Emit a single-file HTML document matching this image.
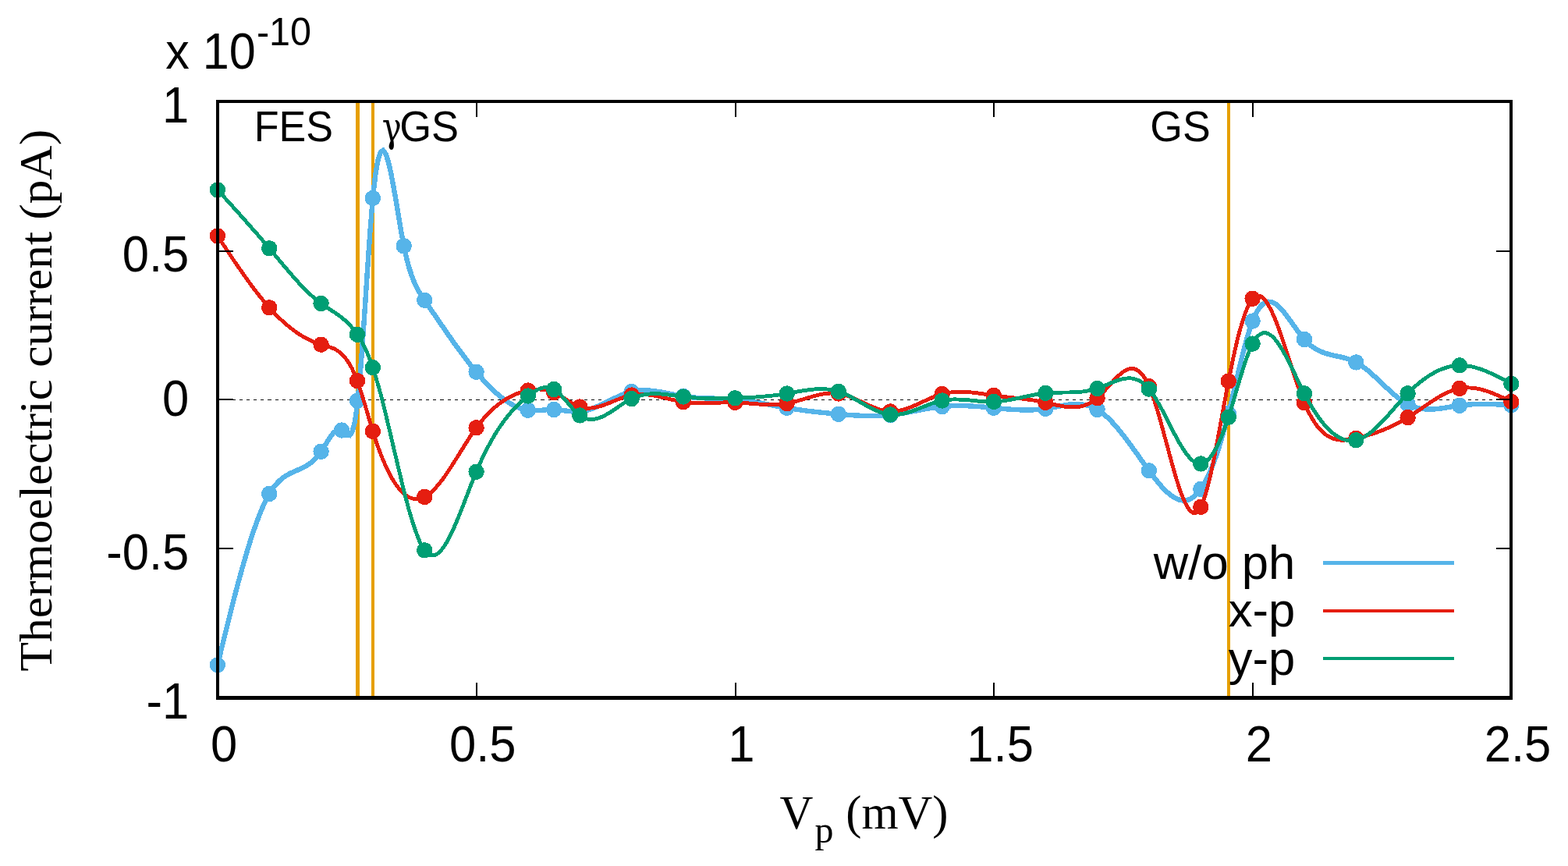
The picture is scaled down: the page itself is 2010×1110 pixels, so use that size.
<!DOCTYPE html>
<html lang="en"><head><meta charset="utf-8"><title>Thermoelectric current</title>
<style>html,body{margin:0;padding:0;background:#fff;overflow:hidden}svg{display:block}text{font-family:"Liberation Sans",sans-serif;font-size:62.5px;fill:#000}.s{font-family:"Liberation Serif",serif}.g{font-family:"DejaVu Serif","Liberation Serif",serif}</style></head><body>
<svg width="2010" height="1110" viewBox="0 0 2010 1110" shape-rendering="crispEdges">
<rect width="2010" height="1110" fill="#fff"/>
<line x1="278.9" y1="512.4" x2="1937" y2="512.4" stroke="#000" stroke-width="1.3" stroke-dasharray="4.2 5.011"/>
<g fill="#E69F00">
<rect x="455.9" y="130" width="5" height="766"/>
<rect x="476" y="130" width="4" height="766"/>
<rect x="1573" y="130" width="4" height="766"/>
</g>
<g id="legend">
<text transform="translate(1660.20,742.10) scale(0.9850,0.9800)" text-anchor="end">w/o ph</text>
<text transform="translate(1660.20,802.90) scale(0.9850,0.9800)" text-anchor="end">x-p</text>
<text transform="translate(1660.20,864.80) scale(0.9850,0.9800)" text-anchor="end">y-p</text>
</g>
<g fill="none" stroke-linejoin="miter" stroke-miterlimit="10" stroke-linecap="butt">
<path d="M278.9,852.3 L282.2,838.7 L285.5,825.1 L288.9,811.6 L292.2,798.2 L295.5,785.0 L298.8,772.0 L302.1,759.2 L305.4,746.7 L308.8,734.5 L312.1,722.7 L315.4,711.3 L318.7,700.3 L322.0,689.8 L325.3,679.8 L328.7,670.4 L332.0,661.5 L335.3,653.3 L338.6,645.8 L341.9,639.0 L345.2,633.0 L348.6,627.7 L351.9,623.2 L355.2,619.3 L358.5,616.0 L361.8,613.2 L365.1,610.8 L368.5,608.7 L371.8,606.9 L375.1,605.3 L378.4,603.8 L381.7,602.4 L385.0,600.9 L388.4,599.3 L391.7,597.6 L395.0,595.5 L398.3,593.2 L401.6,590.4 L404.9,587.1 L408.3,583.3 L411.6,578.8 L414.9,573.7 L418.2,568.3 L421.5,562.9 L424.8,558.1 L428.2,554.1 L431.5,551.4 L434.8,550.4 L438.1,551.5 L441.4,554.6 L444.7,557.7 L448.1,558.2 L451.4,553.7 L454.7,541.6 L458.0,519.5 L461.3,485.3 L464.6,441.5 L468.0,392.2 L471.3,341.7 L474.6,294.2 L477.9,254.0 L481.2,224.4 L484.5,205.2 L487.9,195.0 L491.2,192.8 L494.5,197.3 L497.8,207.3 L501.1,221.5 L504.4,238.9 L507.8,258.2 L511.1,278.1 L514.4,297.6 L517.7,315.3 L521.0,330.4 L524.3,342.9 L527.7,353.2 L531.0,361.7 L534.3,368.7 L537.6,374.7 L540.9,379.9 L544.2,384.8 L547.6,389.6 L550.9,394.5 L554.2,399.4 L557.5,404.2 L560.8,409.1 L564.1,413.9 L567.5,418.7 L570.8,423.5 L574.1,428.3 L577.4,433.0 L580.7,437.7 L584.0,442.3 L587.4,446.9 L590.7,451.4 L594.0,455.8 L597.3,460.2 L600.6,464.5 L603.9,468.7 L607.3,472.8 L610.6,476.8 L613.9,480.7 L617.2,484.5 L620.5,488.2 L623.8,491.8 L627.2,495.2 L630.5,498.5 L633.8,501.6 L637.1,504.6 L640.4,507.4 L643.7,510.1 L647.1,512.6 L650.4,514.9 L653.7,517.0 L657.0,518.9 L660.3,520.6 L663.6,522.1 L667.0,523.4 L670.3,524.4 L673.6,525.2 L676.9,525.8 L680.2,526.1 L683.5,526.3 L686.9,526.2 L690.2,526.1 L693.5,525.9 L696.8,525.6 L700.1,525.3 L703.5,525.1 L706.8,525.0 L710.1,525.0 L713.4,525.2 L716.7,525.5 L720.0,525.8 L723.4,526.3 L726.7,526.7 L730.0,527.1 L733.3,527.4 L736.6,527.6 L739.9,527.7 L743.3,527.5 L746.6,527.1 L749.9,526.5 L753.2,525.6 L756.5,524.6 L759.8,523.4 L763.2,522.1 L766.5,520.7 L769.8,519.2 L773.1,517.6 L776.4,516.0 L779.7,514.3 L783.1,512.7 L786.4,511.1 L789.7,509.5 L793.0,507.9 L796.3,506.5 L799.6,505.1 L803.0,503.9 L806.3,502.9 L809.6,502.0 L812.9,501.3 L816.2,500.8 L819.5,500.5 L822.9,500.3 L826.2,500.3 L829.5,500.4 L832.8,500.6 L836.1,500.9 L839.4,501.3 L842.8,501.8 L846.1,502.3 L849.4,502.9 L852.7,503.6 L856.0,504.2 L859.3,504.9 L862.7,505.6 L866.0,506.3 L869.3,506.9 L872.6,507.5 L875.9,508.0 L879.2,508.5 L882.6,508.9 L885.9,509.2 L889.2,509.5 L892.5,509.8 L895.8,510.0 L899.1,510.1 L902.5,510.3 L905.8,510.4 L909.1,510.5 L912.4,510.6 L915.7,510.7 L919.0,510.8 L922.4,510.9 L925.7,511.0 L929.0,511.2 L932.3,511.3 L935.6,511.5 L938.9,511.7 L942.3,512.0 L945.6,512.3 L948.9,512.7 L952.2,513.1 L955.5,513.5 L958.8,514.0 L962.2,514.5 L965.5,515.0 L968.8,515.6 L972.1,516.1 L975.4,516.7 L978.7,517.3 L982.1,517.9 L985.4,518.6 L988.7,519.2 L992.0,519.8 L995.3,520.4 L998.6,521.0 L1002.0,521.6 L1005.3,522.2 L1008.6,522.8 L1011.9,523.3 L1015.2,523.9 L1018.5,524.4 L1021.9,524.9 L1025.2,525.3 L1028.5,525.8 L1031.8,526.2 L1035.1,526.7 L1038.4,527.1 L1041.8,527.5 L1045.1,527.8 L1048.4,528.2 L1051.7,528.6 L1055.0,528.9 L1058.3,529.2 L1061.7,529.6 L1065.0,529.9 L1068.3,530.2 L1071.6,530.5 L1074.9,530.8 L1078.2,531.1 L1081.6,531.4 L1084.9,531.6 L1088.2,531.9 L1091.5,532.1 L1094.8,532.4 L1098.1,532.6 L1101.5,532.7 L1104.8,532.9 L1108.1,533.0 L1111.4,533.1 L1114.7,533.2 L1118.1,533.2 L1121.4,533.2 L1124.7,533.1 L1128.0,533.0 L1131.3,532.8 L1134.6,532.6 L1138.0,532.3 L1141.3,532.0 L1144.6,531.6 L1147.9,531.2 L1151.2,530.7 L1154.5,530.2 L1157.9,529.6 L1161.2,529.0 L1164.5,528.4 L1167.8,527.8 L1171.1,527.1 L1174.4,526.5 L1177.8,525.9 L1181.1,525.2 L1184.4,524.6 L1187.7,524.0 L1191.0,523.4 L1194.3,522.9 L1197.7,522.4 L1201.0,521.9 L1204.3,521.5 L1207.6,521.1 L1210.9,520.8 L1214.2,520.6 L1217.6,520.4 L1220.9,520.2 L1224.2,520.1 L1227.5,520.1 L1230.8,520.1 L1234.1,520.1 L1237.5,520.2 L1240.8,520.3 L1244.1,520.5 L1247.4,520.7 L1250.7,520.9 L1254.0,521.1 L1257.4,521.3 L1260.7,521.6 L1264.0,521.9 L1267.3,522.2 L1270.6,522.5 L1273.9,522.8 L1277.3,523.1 L1280.6,523.4 L1283.9,523.7 L1287.2,524.0 L1290.5,524.3 L1293.8,524.6 L1297.2,524.8 L1300.5,525.0 L1303.8,525.2 L1307.1,525.3 L1310.4,525.5 L1313.7,525.5 L1317.1,525.5 L1320.4,525.5 L1323.7,525.4 L1327.0,525.2 L1330.3,525.0 L1333.6,524.7 L1337.0,524.3 L1340.3,523.9 L1343.6,523.4 L1346.9,522.8 L1350.2,522.2 L1353.5,521.5 L1356.9,520.9 L1360.2,520.2 L1363.5,519.6 L1366.8,519.1 L1370.1,518.6 L1373.4,518.3 L1376.8,518.1 L1380.1,518.0 L1383.4,518.1 L1386.7,518.4 L1390.0,518.8 L1393.3,519.5 L1396.7,520.5 L1400.0,521.7 L1403.3,523.2 L1406.6,525.0 L1409.9,527.1 L1413.2,529.6 L1416.6,532.3 L1419.9,535.3 L1423.2,538.5 L1426.5,542.0 L1429.8,545.7 L1433.1,549.6 L1436.5,553.6 L1439.8,557.8 L1443.1,562.1 L1446.4,566.5 L1449.7,571.0 L1453.0,575.6 L1456.4,580.2 L1459.7,584.9 L1463.0,589.5 L1466.3,594.2 L1469.6,598.8 L1472.9,603.3 L1476.3,607.8 L1479.6,612.1 L1482.9,616.3 L1486.2,620.3 L1489.5,624.1 L1492.8,627.6 L1496.2,630.8 L1499.5,633.7 L1502.8,636.2 L1506.1,638.2 L1509.4,639.8 L1512.7,640.9 L1516.1,641.4 L1519.4,641.4 L1522.7,640.8 L1526.0,639.5 L1529.3,637.5 L1532.7,634.7 L1536.0,631.2 L1539.3,626.9 L1542.6,621.7 L1545.9,615.7 L1549.2,608.9 L1552.6,601.3 L1555.9,592.8 L1559.2,583.6 L1562.5,573.6 L1565.8,562.8 L1569.1,551.3 L1572.5,539.0 L1575.8,526.0 L1579.1,512.4 L1582.4,498.4 L1585.7,484.3 L1589.0,470.3 L1592.4,456.7 L1595.7,443.7 L1599.0,431.7 L1602.3,420.9 L1605.6,411.5 L1608.9,403.7 L1612.3,397.6 L1615.6,392.9 L1618.9,389.6 L1622.2,387.6 L1625.5,386.7 L1628.8,386.8 L1632.2,388.0 L1635.5,389.9 L1638.8,392.6 L1642.1,395.8 L1645.4,399.6 L1648.7,403.8 L1652.1,408.3 L1655.4,412.9 L1658.7,417.6 L1662.0,422.3 L1665.3,426.8 L1668.6,431.1 L1672.0,435.0 L1675.3,438.5 L1678.6,441.5 L1681.9,444.1 L1685.2,446.4 L1688.5,448.3 L1691.9,450.0 L1695.2,451.4 L1698.5,452.6 L1701.8,453.6 L1705.1,454.5 L1708.4,455.3 L1711.8,456.1 L1715.1,456.8 L1718.4,457.5 L1721.7,458.3 L1725.0,459.2 L1728.3,460.2 L1731.7,461.4 L1735.0,462.8 L1738.3,464.4 L1741.6,466.3 L1744.9,468.4 L1748.2,470.8 L1751.6,473.4 L1754.9,476.1 L1758.2,479.0 L1761.5,482.0 L1764.8,485.1 L1768.1,488.2 L1771.5,491.3 L1774.8,494.5 L1778.1,497.6 L1781.4,500.7 L1784.7,503.7 L1788.0,506.5 L1791.4,509.3 L1794.7,511.8 L1798.0,514.2 L1801.3,516.3 L1804.6,518.2 L1807.9,519.8 L1811.3,521.2 L1814.6,522.3 L1817.9,523.1 L1821.2,523.8 L1824.5,524.2 L1827.8,524.5 L1831.2,524.7 L1834.5,524.6 L1837.8,524.5 L1841.1,524.2 L1844.4,523.9 L1847.7,523.4 L1851.1,523.0 L1854.4,522.4 L1857.7,521.9 L1861.0,521.3 L1864.3,520.8 L1867.6,520.3 L1871.0,519.8 L1874.3,519.4 L1877.6,519.0 L1880.9,518.7 L1884.2,518.5 L1887.5,518.3 L1890.9,518.1 L1894.2,518.0 L1897.5,518.0 L1900.8,517.9 L1904.1,517.9 L1907.4,518.0 L1910.8,518.0 L1914.1,518.1 L1917.4,518.3 L1920.7,518.4 L1924.0,518.5 L1927.3,518.7 L1930.7,518.9 L1934.0,519.0 L1937.3,519.2" stroke="#56B4E9" stroke-width="6.4"/>
<rect x="1696" y="719" width="168" height="5" fill="#56B4E9"/>
<circle cx="278.9" cy="852.3" r="10.2" fill="#56B4E9"/><circle cx="345.2" cy="633.0" r="10.2" fill="#56B4E9"/><circle cx="411.6" cy="578.8" r="10.2" fill="#56B4E9"/><circle cx="438.1" cy="551.5" r="10.2" fill="#56B4E9"/><circle cx="458.0" cy="513.6" r="10.2" fill="#56B4E9"/><circle cx="477.9" cy="254.0" r="10.2" fill="#56B4E9"/><circle cx="517.7" cy="315.3" r="10.2" fill="#56B4E9"/><circle cx="544.2" cy="384.8" r="10.2" fill="#56B4E9"/><circle cx="610.6" cy="476.8" r="10.2" fill="#56B4E9"/><circle cx="676.9" cy="525.8" r="10.2" fill="#56B4E9"/><circle cx="710.1" cy="525.0" r="10.2" fill="#56B4E9"/><circle cx="743.3" cy="527.5" r="10.2" fill="#56B4E9"/><circle cx="809.6" cy="502.0" r="10.2" fill="#56B4E9"/><circle cx="875.9" cy="508.0" r="10.2" fill="#56B4E9"/><circle cx="942.3" cy="512.0" r="10.2" fill="#56B4E9"/><circle cx="1008.6" cy="522.8" r="10.2" fill="#56B4E9"/><circle cx="1074.9" cy="530.8" r="10.2" fill="#56B4E9"/><circle cx="1141.3" cy="532.0" r="10.2" fill="#56B4E9"/><circle cx="1207.6" cy="521.1" r="10.2" fill="#56B4E9"/><circle cx="1273.9" cy="522.8" r="10.2" fill="#56B4E9"/><circle cx="1340.3" cy="523.9" r="10.2" fill="#56B4E9"/><circle cx="1406.6" cy="525.0" r="10.2" fill="#56B4E9"/><circle cx="1472.9" cy="603.3" r="10.2" fill="#56B4E9"/><circle cx="1539.3" cy="626.9" r="10.2" fill="#56B4E9"/><circle cx="1574.8" cy="530.0" r="10.2" fill="#56B4E9"/><circle cx="1605.6" cy="411.5" r="10.2" fill="#56B4E9"/><circle cx="1672.0" cy="435.0" r="10.2" fill="#56B4E9"/><circle cx="1738.3" cy="464.4" r="10.2" fill="#56B4E9"/><circle cx="1804.6" cy="518.2" r="10.2" fill="#56B4E9"/><circle cx="1871.0" cy="519.8" r="10.2" fill="#56B4E9"/><circle cx="1937.3" cy="519.2" r="10.2" fill="#56B4E9"/>
<path d="M278.9,302.4 L282.2,307.4 L285.5,312.5 L288.9,317.5 L292.2,322.5 L295.5,327.4 L298.8,332.4 L302.1,337.3 L305.4,342.1 L308.8,346.9 L312.1,351.6 L315.4,356.3 L318.7,360.9 L322.0,365.4 L325.3,369.9 L328.7,374.2 L332.0,378.5 L335.3,382.6 L338.6,386.6 L341.9,390.5 L345.2,394.3 L348.6,398.0 L351.9,401.5 L355.2,404.9 L358.5,408.1 L361.8,411.2 L365.1,414.2 L368.5,417.1 L371.8,419.8 L375.1,422.4 L378.4,424.8 L381.7,427.1 L385.0,429.3 L388.4,431.3 L391.7,433.2 L395.0,435.0 L398.3,436.6 L401.6,438.1 L404.9,439.4 L408.3,440.6 L411.6,441.7 L414.9,442.6 L418.2,443.5 L421.5,444.5 L424.8,445.6 L428.2,447.0 L431.5,448.8 L434.8,451.0 L438.1,453.8 L441.4,457.3 L444.7,461.5 L448.1,466.6 L451.4,472.6 L454.7,479.8 L458.0,488.1 L461.3,497.6 L464.6,508.1 L468.0,519.2 L471.3,530.5 L474.6,541.8 L477.9,552.8 L481.2,563.1 L484.5,572.7 L487.9,581.7 L491.2,589.9 L494.5,597.5 L497.8,604.5 L501.1,610.8 L504.4,616.4 L507.8,621.4 L511.1,625.8 L514.4,629.6 L517.7,632.7 L521.0,635.3 L524.3,637.3 L527.7,638.6 L531.0,639.4 L534.3,639.7 L537.6,639.3 L540.9,638.4 L544.2,637.0 L547.6,635.0 L550.9,632.6 L554.2,629.6 L557.5,626.3 L560.8,622.6 L564.1,618.5 L567.5,614.2 L570.8,609.6 L574.1,604.7 L577.4,599.7 L580.7,594.5 L584.0,589.3 L587.4,584.0 L590.7,578.6 L594.0,573.3 L597.3,568.0 L600.6,562.8 L603.9,557.8 L607.3,552.9 L610.6,548.3 L613.9,543.9 L617.2,539.8 L620.5,535.9 L623.8,532.2 L627.2,528.8 L630.5,525.5 L633.8,522.5 L637.1,519.8 L640.4,517.2 L643.7,514.8 L647.1,512.6 L650.4,510.6 L653.7,508.8 L657.0,507.1 L660.3,505.6 L663.6,504.3 L667.0,503.2 L670.3,502.1 L673.6,501.2 L676.9,500.5 L680.2,499.9 L683.5,499.4 L686.9,499.1 L690.2,499.0 L693.5,499.1 L696.8,499.3 L700.1,499.9 L703.5,500.6 L706.8,501.7 L710.1,503.0 L713.4,504.6 L716.7,506.5 L720.0,508.5 L723.4,510.6 L726.7,512.7 L730.0,514.8 L733.3,516.8 L736.6,518.7 L739.9,520.2 L743.3,521.5 L746.6,522.4 L749.9,523.0 L753.2,523.2 L756.5,523.1 L759.8,522.8 L763.2,522.3 L766.5,521.5 L769.8,520.6 L773.1,519.5 L776.4,518.3 L779.7,517.0 L783.1,515.7 L786.4,514.3 L789.7,513.0 L793.0,511.6 L796.3,510.4 L799.6,509.2 L803.0,508.1 L806.3,507.2 L809.6,506.5 L812.9,506.0 L816.2,505.6 L819.5,505.5 L822.9,505.5 L826.2,505.6 L829.5,505.9 L832.8,506.3 L836.1,506.8 L839.4,507.3 L842.8,508.0 L846.1,508.7 L849.4,509.5 L852.7,510.2 L856.0,511.0 L859.3,511.8 L862.7,512.6 L866.0,513.3 L869.3,514.0 L872.6,514.6 L875.9,515.1 L879.2,515.5 L882.6,515.9 L885.9,516.2 L889.2,516.4 L892.5,516.5 L895.8,516.6 L899.1,516.6 L902.5,516.6 L905.8,516.5 L909.1,516.5 L912.4,516.4 L915.7,516.3 L919.0,516.2 L922.4,516.1 L925.7,516.0 L929.0,515.9 L932.3,515.8 L935.6,515.8 L938.9,515.8 L942.3,515.9 L945.6,516.0 L948.9,516.2 L952.2,516.4 L955.5,516.6 L958.8,516.9 L962.2,517.2 L965.5,517.4 L968.8,517.7 L972.1,518.0 L975.4,518.2 L978.7,518.4 L982.1,518.5 L985.4,518.6 L988.7,518.7 L992.0,518.6 L995.3,518.5 L998.6,518.3 L1002.0,518.0 L1005.3,517.6 L1008.6,517.1 L1011.9,516.5 L1015.2,515.7 L1018.5,514.9 L1021.9,514.0 L1025.2,513.0 L1028.5,512.1 L1031.8,511.1 L1035.1,510.0 L1038.4,509.1 L1041.8,508.1 L1045.1,507.2 L1048.4,506.4 L1051.7,505.7 L1055.0,505.0 L1058.3,504.5 L1061.7,504.2 L1065.0,504.0 L1068.3,503.9 L1071.6,504.1 L1074.9,504.5 L1078.2,505.1 L1081.6,505.9 L1084.9,506.9 L1088.2,508.1 L1091.5,509.4 L1094.8,510.8 L1098.1,512.2 L1101.5,513.8 L1104.8,515.3 L1108.1,516.9 L1111.4,518.4 L1114.7,519.9 L1118.1,521.4 L1121.4,522.7 L1124.7,523.9 L1128.0,525.0 L1131.3,525.9 L1134.6,526.6 L1138.0,527.1 L1141.3,527.4 L1144.6,527.4 L1147.9,527.1 L1151.2,526.7 L1154.5,526.0 L1157.9,525.1 L1161.2,524.1 L1164.5,522.9 L1167.8,521.7 L1171.1,520.3 L1174.4,518.9 L1177.8,517.4 L1181.1,515.8 L1184.4,514.3 L1187.7,512.8 L1191.0,511.3 L1194.3,509.8 L1197.7,508.5 L1201.0,507.2 L1204.3,506.1 L1207.6,505.1 L1210.9,504.3 L1214.2,503.6 L1217.6,503.1 L1220.9,502.7 L1224.2,502.4 L1227.5,502.2 L1230.8,502.2 L1234.1,502.2 L1237.5,502.4 L1240.8,502.6 L1244.1,502.9 L1247.4,503.2 L1250.7,503.6 L1254.0,504.0 L1257.4,504.5 L1260.7,505.0 L1264.0,505.5 L1267.3,505.9 L1270.6,506.4 L1273.9,506.9 L1277.3,507.3 L1280.6,507.8 L1283.9,508.2 L1287.2,508.5 L1290.5,508.9 L1293.8,509.3 L1297.2,509.6 L1300.5,510.0 L1303.8,510.4 L1307.1,510.7 L1310.4,511.1 L1313.7,511.5 L1317.1,512.0 L1320.4,512.4 L1323.7,512.9 L1327.0,513.4 L1330.3,514.0 L1333.6,514.6 L1337.0,515.2 L1340.3,515.9 L1343.6,516.6 L1346.9,517.4 L1350.2,518.2 L1353.5,519.0 L1356.9,519.7 L1360.2,520.3 L1363.5,520.9 L1366.8,521.4 L1370.1,521.7 L1373.4,521.9 L1376.8,521.9 L1380.1,521.7 L1383.4,521.3 L1386.7,520.6 L1390.0,519.7 L1393.3,518.4 L1396.7,516.9 L1400.0,515.0 L1403.3,512.7 L1406.6,510.1 L1409.9,507.1 L1413.2,503.7 L1416.6,500.1 L1419.9,496.4 L1423.2,492.7 L1426.5,489.0 L1429.8,485.5 L1433.1,482.2 L1436.5,479.2 L1439.8,476.6 L1443.1,474.6 L1446.4,473.2 L1449.7,472.5 L1453.0,472.6 L1456.4,473.6 L1459.7,475.6 L1463.0,478.6 L1466.3,482.9 L1469.6,488.4 L1472.9,495.2 L1476.3,503.4 L1479.6,512.9 L1482.9,523.4 L1486.2,534.7 L1489.5,546.6 L1492.8,558.9 L1496.2,571.3 L1499.5,583.7 L1502.8,595.8 L1506.1,607.5 L1509.4,618.4 L1512.7,628.4 L1516.1,637.3 L1519.4,644.8 L1522.7,650.8 L1526.0,655.0 L1529.3,657.2 L1532.7,657.2 L1536.0,654.8 L1539.3,649.8 L1542.6,642.0 L1545.9,631.7 L1549.2,619.3 L1552.6,605.0 L1555.9,589.3 L1559.2,572.4 L1562.5,554.8 L1565.8,536.8 L1569.1,518.6 L1572.5,500.8 L1575.8,483.5 L1579.1,467.1 L1582.4,451.8 L1585.7,437.5 L1589.0,424.6 L1592.4,413.0 L1595.7,402.9 L1599.0,394.4 L1602.3,387.7 L1605.6,382.8 L1608.9,379.9 L1612.3,378.8 L1615.6,379.5 L1618.9,381.7 L1622.2,385.3 L1625.5,390.3 L1628.8,396.4 L1632.2,403.5 L1635.5,411.4 L1638.8,420.1 L1642.1,429.4 L1645.4,439.1 L1648.7,449.2 L1652.1,459.4 L1655.4,469.6 L1658.7,479.7 L1662.0,489.6 L1665.3,499.0 L1668.6,507.9 L1672.0,516.2 L1675.3,523.7 L1678.6,530.4 L1681.9,536.3 L1685.2,541.6 L1688.5,546.2 L1691.9,550.1 L1695.2,553.5 L1698.5,556.4 L1701.8,558.7 L1705.1,560.5 L1708.4,562.0 L1711.8,563.0 L1715.1,563.7 L1718.4,564.1 L1721.7,564.2 L1725.0,564.0 L1728.3,563.7 L1731.7,563.1 L1735.0,562.5 L1738.3,561.8 L1741.6,561.0 L1744.9,560.2 L1748.2,559.3 L1751.6,558.4 L1754.9,557.4 L1758.2,556.4 L1761.5,555.3 L1764.8,554.2 L1768.1,553.0 L1771.5,551.7 L1774.8,550.4 L1778.1,549.0 L1781.4,547.5 L1784.7,545.9 L1788.0,544.3 L1791.4,542.6 L1794.7,540.9 L1798.0,539.0 L1801.3,537.1 L1804.6,535.1 L1807.9,533.0 L1811.3,530.9 L1814.6,528.6 L1817.9,526.4 L1821.2,524.1 L1824.5,521.9 L1827.8,519.6 L1831.2,517.4 L1834.5,515.1 L1837.8,513.0 L1841.1,510.9 L1844.4,508.9 L1847.7,507.0 L1851.1,505.3 L1854.4,503.6 L1857.7,502.1 L1861.0,500.8 L1864.3,499.6 L1867.6,498.7 L1871.0,497.9 L1874.3,497.4 L1877.6,497.0 L1880.9,496.9 L1884.2,497.0 L1887.5,497.2 L1890.9,497.6 L1894.2,498.2 L1897.5,498.9 L1900.8,499.8 L1904.1,500.8 L1907.4,501.8 L1910.8,503.0 L1914.1,504.3 L1917.4,505.7 L1920.7,507.1 L1924.0,508.6 L1927.3,510.1 L1930.7,511.6 L1934.0,513.2 L1937.3,514.8" stroke="#E51E10" stroke-width="4.9"/>
<rect x="1696" y="780.8" width="168" height="4.1" fill="#E51E10"/>
<circle cx="278.9" cy="302.4" r="10.2" fill="#E51E10"/><circle cx="345.2" cy="394.3" r="10.2" fill="#E51E10"/><circle cx="411.6" cy="441.7" r="10.2" fill="#E51E10"/><circle cx="458.0" cy="488.1" r="10.2" fill="#E51E10"/><circle cx="477.9" cy="552.8" r="10.2" fill="#E51E10"/><circle cx="544.2" cy="637.0" r="10.2" fill="#E51E10"/><circle cx="610.6" cy="548.3" r="10.2" fill="#E51E10"/><circle cx="676.9" cy="500.5" r="10.2" fill="#E51E10"/><circle cx="710.1" cy="503.0" r="10.2" fill="#E51E10"/><circle cx="743.3" cy="521.5" r="10.2" fill="#E51E10"/><circle cx="809.6" cy="506.5" r="10.2" fill="#E51E10"/><circle cx="875.9" cy="515.1" r="10.2" fill="#E51E10"/><circle cx="942.3" cy="515.9" r="10.2" fill="#E51E10"/><circle cx="1008.6" cy="517.1" r="10.2" fill="#E51E10"/><circle cx="1074.9" cy="504.5" r="10.2" fill="#E51E10"/><circle cx="1141.3" cy="527.4" r="10.2" fill="#E51E10"/><circle cx="1207.6" cy="505.1" r="10.2" fill="#E51E10"/><circle cx="1273.9" cy="506.9" r="10.2" fill="#E51E10"/><circle cx="1340.3" cy="515.9" r="10.2" fill="#E51E10"/><circle cx="1406.6" cy="510.1" r="10.2" fill="#E51E10"/><circle cx="1472.9" cy="495.2" r="10.2" fill="#E51E10"/><circle cx="1539.3" cy="649.8" r="10.2" fill="#E51E10"/><circle cx="1574.8" cy="488.6" r="10.2" fill="#E51E10"/><circle cx="1605.6" cy="382.8" r="10.2" fill="#E51E10"/><circle cx="1672.0" cy="516.2" r="10.2" fill="#E51E10"/><circle cx="1738.3" cy="561.8" r="10.2" fill="#E51E10"/><circle cx="1804.6" cy="535.1" r="10.2" fill="#E51E10"/><circle cx="1871.0" cy="497.9" r="10.2" fill="#E51E10"/><circle cx="1937.3" cy="514.8" r="10.2" fill="#E51E10"/>
<path d="M278.9,243.4 L282.2,247.0 L285.5,250.7 L288.9,254.4 L292.2,258.0 L295.5,261.7 L298.8,265.3 L302.1,269.0 L305.4,272.7 L308.8,276.4 L312.1,280.1 L315.4,283.9 L318.7,287.6 L322.0,291.4 L325.3,295.1 L328.7,298.9 L332.0,302.8 L335.3,306.6 L338.6,310.5 L341.9,314.4 L345.2,318.3 L348.6,322.3 L351.9,326.2 L355.2,330.2 L358.5,334.2 L361.8,338.1 L365.1,342.1 L368.5,346.0 L371.8,349.8 L375.1,353.7 L378.4,357.4 L381.7,361.1 L385.0,364.7 L388.4,368.1 L391.7,371.5 L395.0,374.8 L398.3,377.9 L401.6,380.9 L404.9,383.8 L408.3,386.5 L411.6,389.0 L414.9,391.4 L418.2,393.6 L421.5,395.7 L424.8,397.9 L428.2,400.0 L431.5,402.2 L434.8,404.6 L438.1,407.1 L441.4,409.9 L444.7,412.9 L448.1,416.2 L451.4,420.0 L454.7,424.2 L458.0,428.8 L461.3,434.0 L464.6,439.8 L468.0,446.3 L471.3,453.7 L474.6,461.9 L477.9,471.2 L481.2,481.5 L484.5,492.8 L487.9,504.9 L491.2,517.7 L494.5,531.1 L497.8,544.9 L501.1,558.9 L504.4,573.1 L507.8,587.3 L511.1,601.4 L514.4,615.2 L517.7,628.7 L521.0,641.5 L524.3,653.8 L527.7,665.2 L531.0,675.6 L534.3,685.0 L537.6,693.2 L540.9,700.0 L544.2,705.3 L547.6,709.0 L550.9,711.2 L554.2,712.0 L557.5,711.5 L560.8,709.7 L564.1,706.9 L567.5,702.9 L570.8,698.1 L574.1,692.5 L577.4,686.1 L580.7,679.1 L584.0,671.6 L587.4,663.6 L590.7,655.4 L594.0,646.9 L597.3,638.3 L600.6,629.7 L603.9,621.1 L607.3,612.8 L610.6,604.7 L613.9,597.0 L617.2,589.6 L620.5,582.7 L623.8,576.0 L627.2,569.7 L630.5,563.8 L633.8,558.1 L637.1,552.7 L640.4,547.6 L643.7,542.8 L647.1,538.3 L650.4,534.0 L653.7,530.0 L657.0,526.2 L660.3,522.6 L663.6,519.2 L667.0,516.0 L670.3,513.0 L673.6,510.2 L676.9,507.5 L680.2,505.0 L683.5,502.7 L686.9,500.6 L690.2,498.9 L693.5,497.6 L696.8,496.8 L700.1,496.4 L703.5,496.6 L706.8,497.5 L710.1,499.0 L713.4,501.3 L716.7,504.1 L720.0,507.5 L723.4,511.2 L726.7,515.0 L730.0,519.0 L733.3,522.8 L736.6,526.4 L739.9,529.7 L743.3,532.4 L746.6,534.5 L749.9,536.0 L753.2,537.0 L756.5,537.5 L759.8,537.4 L763.2,537.0 L766.5,536.2 L769.8,535.0 L773.1,533.6 L776.4,531.9 L779.7,530.0 L783.1,527.9 L786.4,525.7 L789.7,523.5 L793.0,521.2 L796.3,519.0 L799.6,516.8 L803.0,514.7 L806.3,512.8 L809.6,511.1 L812.9,509.6 L816.2,508.4 L819.5,507.3 L822.9,506.5 L826.2,505.8 L829.5,505.3 L832.8,505.0 L836.1,504.8 L839.4,504.7 L842.8,504.8 L846.1,504.9 L849.4,505.2 L852.7,505.5 L856.0,505.9 L859.3,506.3 L862.7,506.7 L866.0,507.2 L869.3,507.6 L872.6,508.1 L875.9,508.5 L879.2,508.9 L882.6,509.2 L885.9,509.5 L889.2,509.8 L892.5,510.0 L895.8,510.2 L899.1,510.4 L902.5,510.5 L905.8,510.6 L909.1,510.7 L912.4,510.7 L915.7,510.8 L919.0,510.8 L922.4,510.7 L925.7,510.7 L929.0,510.7 L932.3,510.6 L935.6,510.5 L938.9,510.4 L942.3,510.3 L945.6,510.2 L948.9,510.1 L952.2,509.9 L955.5,509.8 L958.8,509.6 L962.2,509.4 L965.5,509.2 L968.8,509.0 L972.1,508.8 L975.4,508.5 L978.7,508.2 L982.1,507.9 L985.4,507.6 L988.7,507.2 L992.0,506.9 L995.3,506.4 L998.6,506.0 L1002.0,505.5 L1005.3,505.0 L1008.6,504.5 L1011.9,503.9 L1015.2,503.3 L1018.5,502.7 L1021.9,502.1 L1025.2,501.5 L1028.5,501.0 L1031.8,500.4 L1035.1,500.0 L1038.4,499.5 L1041.8,499.2 L1045.1,498.9 L1048.4,498.7 L1051.7,498.6 L1055.0,498.6 L1058.3,498.8 L1061.7,499.1 L1065.0,499.5 L1068.3,500.2 L1071.6,500.9 L1074.9,501.9 L1078.2,503.1 L1081.6,504.4 L1084.9,505.9 L1088.2,507.5 L1091.5,509.2 L1094.8,511.0 L1098.1,512.8 L1101.5,514.7 L1104.8,516.6 L1108.1,518.5 L1111.4,520.3 L1114.7,522.1 L1118.1,523.8 L1121.4,525.4 L1124.7,526.8 L1128.0,528.1 L1131.3,529.3 L1134.6,530.2 L1138.0,530.9 L1141.3,531.4 L1144.6,531.6 L1147.9,531.6 L1151.2,531.3 L1154.5,530.8 L1157.9,530.2 L1161.2,529.4 L1164.5,528.4 L1167.8,527.4 L1171.1,526.2 L1174.4,525.0 L1177.8,523.7 L1181.1,522.4 L1184.4,521.1 L1187.7,519.8 L1191.0,518.5 L1194.3,517.3 L1197.7,516.2 L1201.0,515.2 L1204.3,514.3 L1207.6,513.5 L1210.9,512.9 L1214.2,512.5 L1217.6,512.2 L1220.9,512.0 L1224.2,511.9 L1227.5,512.0 L1230.8,512.1 L1234.1,512.3 L1237.5,512.5 L1240.8,512.8 L1244.1,513.1 L1247.4,513.4 L1250.7,513.7 L1254.0,514.1 L1257.4,514.4 L1260.7,514.6 L1264.0,514.8 L1267.3,514.9 L1270.6,515.0 L1273.9,514.9 L1277.3,514.7 L1280.6,514.5 L1283.9,514.1 L1287.2,513.7 L1290.5,513.2 L1293.8,512.6 L1297.2,512.0 L1300.5,511.3 L1303.8,510.7 L1307.1,510.0 L1310.4,509.2 L1313.7,508.5 L1317.1,507.8 L1320.4,507.1 L1323.7,506.4 L1327.0,505.8 L1330.3,505.2 L1333.6,504.7 L1337.0,504.3 L1340.3,503.9 L1343.6,503.6 L1346.9,503.4 L1350.2,503.3 L1353.5,503.2 L1356.9,503.1 L1360.2,503.1 L1363.5,503.0 L1366.8,503.0 L1370.1,503.0 L1373.4,502.9 L1376.8,502.8 L1380.1,502.6 L1383.4,502.4 L1386.7,502.1 L1390.0,501.7 L1393.3,501.2 L1396.7,500.6 L1400.0,499.9 L1403.3,499.0 L1406.6,498.0 L1409.9,496.8 L1413.2,495.5 L1416.6,494.1 L1419.9,492.7 L1423.2,491.3 L1426.5,489.9 L1429.8,488.6 L1433.1,487.4 L1436.5,486.4 L1439.8,485.6 L1443.1,485.1 L1446.4,484.8 L1449.7,484.9 L1453.0,485.4 L1456.4,486.3 L1459.7,487.7 L1463.0,489.5 L1466.3,492.0 L1469.6,495.0 L1472.9,498.6 L1476.3,502.9 L1479.6,507.8 L1482.9,513.1 L1486.2,518.9 L1489.5,525.0 L1492.8,531.3 L1496.2,537.8 L1499.5,544.3 L1502.8,550.8 L1506.1,557.2 L1509.4,563.3 L1512.7,569.2 L1516.1,574.6 L1519.4,579.6 L1522.7,584.0 L1526.0,587.8 L1529.3,590.8 L1532.7,592.9 L1536.0,594.2 L1539.3,594.4 L1542.6,593.5 L1545.9,591.6 L1549.2,588.7 L1552.6,584.7 L1555.9,579.8 L1559.2,573.9 L1562.5,567.1 L1565.8,559.5 L1569.1,551.0 L1572.5,541.7 L1575.8,531.6 L1579.1,520.8 L1582.4,509.7 L1585.7,498.3 L1589.0,487.0 L1592.4,476.1 L1595.7,465.7 L1599.0,456.2 L1602.3,447.7 L1605.6,440.6 L1608.9,435.0 L1612.3,430.9 L1615.6,428.2 L1618.9,426.8 L1622.2,426.6 L1625.5,427.6 L1628.8,429.5 L1632.2,432.4 L1635.5,436.1 L1638.8,440.5 L1642.1,445.6 L1645.4,451.2 L1648.7,457.2 L1652.1,463.7 L1655.4,470.3 L1658.7,477.2 L1662.0,484.1 L1665.3,491.0 L1668.6,497.7 L1672.0,504.3 L1675.3,510.6 L1678.6,516.5 L1681.9,522.1 L1685.2,527.4 L1688.5,532.4 L1691.9,537.1 L1695.2,541.4 L1698.5,545.3 L1701.8,548.9 L1705.1,552.2 L1708.4,555.1 L1711.8,557.6 L1715.1,559.8 L1718.4,561.6 L1721.7,563.0 L1725.0,564.0 L1728.3,564.7 L1731.7,564.9 L1735.0,564.8 L1738.3,564.2 L1741.6,563.2 L1744.9,561.9 L1748.2,560.2 L1751.6,558.2 L1754.9,555.9 L1758.2,553.3 L1761.5,550.5 L1764.8,547.4 L1768.1,544.2 L1771.5,540.8 L1774.8,537.3 L1778.1,533.7 L1781.4,530.0 L1784.7,526.2 L1788.0,522.5 L1791.4,518.7 L1794.7,515.0 L1798.0,511.3 L1801.3,507.8 L1804.6,504.3 L1807.9,501.0 L1811.3,497.8 L1814.6,494.8 L1817.9,491.9 L1821.2,489.2 L1824.5,486.7 L1827.8,484.3 L1831.2,482.0 L1834.5,480.0 L1837.8,478.1 L1841.1,476.3 L1844.4,474.7 L1847.7,473.3 L1851.1,472.1 L1854.4,471.0 L1857.7,470.1 L1861.0,469.4 L1864.3,468.9 L1867.6,468.6 L1871.0,468.4 L1874.3,468.4 L1877.6,468.6 L1880.9,469.0 L1884.2,469.5 L1887.5,470.2 L1890.9,471.0 L1894.2,472.0 L1897.5,473.0 L1900.8,474.2 L1904.1,475.5 L1907.4,476.9 L1910.8,478.3 L1914.1,479.9 L1917.4,481.5 L1920.7,483.1 L1924.0,484.8 L1927.3,486.6 L1930.7,488.3 L1934.0,490.1 L1937.3,491.9" stroke="#009E73" stroke-width="4.9"/>
<rect x="1696" y="841.9" width="168" height="4.1" fill="#009E73"/>
<circle cx="278.9" cy="243.4" r="10.2" fill="#009E73"/><circle cx="345.2" cy="318.3" r="10.2" fill="#009E73"/><circle cx="411.6" cy="389.0" r="10.2" fill="#009E73"/><circle cx="458.0" cy="428.8" r="10.2" fill="#009E73"/><circle cx="477.9" cy="471.2" r="10.2" fill="#009E73"/><circle cx="544.2" cy="705.3" r="10.2" fill="#009E73"/><circle cx="610.6" cy="604.7" r="10.2" fill="#009E73"/><circle cx="676.9" cy="507.5" r="10.2" fill="#009E73"/><circle cx="710.1" cy="499.0" r="10.2" fill="#009E73"/><circle cx="743.3" cy="532.4" r="10.2" fill="#009E73"/><circle cx="809.6" cy="511.1" r="10.2" fill="#009E73"/><circle cx="875.9" cy="508.5" r="10.2" fill="#009E73"/><circle cx="942.3" cy="510.3" r="10.2" fill="#009E73"/><circle cx="1008.6" cy="504.5" r="10.2" fill="#009E73"/><circle cx="1074.9" cy="501.9" r="10.2" fill="#009E73"/><circle cx="1141.3" cy="531.4" r="10.2" fill="#009E73"/><circle cx="1207.6" cy="513.5" r="10.2" fill="#009E73"/><circle cx="1273.9" cy="514.9" r="10.2" fill="#009E73"/><circle cx="1340.3" cy="503.9" r="10.2" fill="#009E73"/><circle cx="1406.6" cy="498.0" r="10.2" fill="#009E73"/><circle cx="1472.9" cy="498.6" r="10.2" fill="#009E73"/><circle cx="1539.3" cy="594.4" r="10.2" fill="#009E73"/><circle cx="1574.8" cy="534.7" r="10.2" fill="#009E73"/><circle cx="1605.6" cy="440.6" r="10.2" fill="#009E73"/><circle cx="1672.0" cy="504.3" r="10.2" fill="#009E73"/><circle cx="1738.3" cy="564.2" r="10.2" fill="#009E73"/><circle cx="1804.6" cy="504.3" r="10.2" fill="#009E73"/><circle cx="1871.0" cy="468.4" r="10.2" fill="#009E73"/><circle cx="1937.3" cy="491.9" r="10.2" fill="#009E73"/>
</g>
<g fill="#000" id="ticks">
<rect x="609.8" y="875.2" width="2.2" height="18"/>
<rect x="609.8" y="130" width="2.2" height="19.8"/>
<rect x="941.5" y="875.2" width="2.2" height="18"/>
<rect x="941.5" y="130" width="2.2" height="19.8"/>
<rect x="1273.1" y="875.2" width="2.2" height="18"/>
<rect x="1273.1" y="130" width="2.2" height="19.8"/>
<rect x="1604.8" y="875.2" width="2.2" height="18"/>
<rect x="1604.8" y="130" width="2.2" height="19.8"/>
<rect x="279" y="320.95" width="19.8" height="2.1"/>
<rect x="1918.4" y="320.95" width="18" height="2.1"/>
<rect x="279" y="511.15" width="19.8" height="2.1"/>
<rect x="1918.4" y="511.15" width="18" height="2.1"/>
<rect x="279" y="702.05" width="19.8" height="2.1"/>
<rect x="1918.4" y="702.05" width="18" height="2.1"/>
</g>
<g fill="#000" id="border">
<rect x="277" y="128" width="4" height="769"/>
<rect x="277" y="892" width="1662" height="4.9"/>
<rect x="277" y="128" width="1662" height="3.9"/>
<rect x="1935" y="128" width="4" height="769"/>
</g>
<g id="labels">
<text transform="translate(212.20,87.90) scale(0.9780,1.0300)">x 10</text>
<text transform="translate(328.90,57.80) scale(1.0000,1.0300)" style="font-size:48.5px">-10</text>
<text transform="translate(242.30,156.90) scale(0.9850,1.0260)" text-anchor="end">1</text>
<text transform="translate(242.30,348.30) scale(0.9850,1.0260)" text-anchor="end">0.5</text>
<text transform="translate(242.30,533.20) scale(0.9850,1.0260)" text-anchor="end">0</text>
<text transform="translate(242.30,730.30) scale(0.9850,1.0260)" text-anchor="end">-0.5</text>
<text transform="translate(242.30,921.00) scale(0.9850,1.0260)" text-anchor="end">-1</text>
<text transform="translate(287.10,976.00) scale(0.9850,1.0260)" text-anchor="middle">0</text>
<text transform="translate(618.78,976.00) scale(0.9850,1.0260)" text-anchor="middle">0.5</text>
<text transform="translate(950.46,976.00) scale(0.9850,1.0260)" text-anchor="middle">1</text>
<text transform="translate(1282.14,976.00) scale(0.9850,1.0260)" text-anchor="middle">1.5</text>
<text transform="translate(1613.82,976.00) scale(0.9850,1.0260)" text-anchor="middle">2</text>
<text transform="translate(1945.50,976.00) scale(0.9850,1.0260)" text-anchor="middle">2.5</text>
<text transform="translate(325.80,181.00) scale(1.0000,1.0600)" style="font-size:52.08px">FES</text>
<text transform="translate(489.80,180.90) scale(0.8000,1.0000)" class="g" style="font-size:52.3px">γ</text>
<text transform="translate(512.20,181.40) scale(1.0080,1.0800)" style="font-size:52.08px">GS</text>
<text transform="translate(1474.30,181.40) scale(1.0300,1.0800)" style="font-size:52.08px">GS</text>
<text transform="translate(999.50,1062.40) scale(0.9500,0.9750)" class="s">V</text>
<text transform="translate(1044.60,1080.40) scale(0.9600,0.9800)" class="s" style="font-size:50px">p</text>
<text transform="translate(1084.20,1062.40) scale(0.9700,0.9650)" class="s">(mV)</text>
<text transform="translate(65.70,860.40) rotate(-90) scale(0.9810,0.9620)" class="s">Thermoelectric current (pA)</text>
</g>
</svg></body></html>
